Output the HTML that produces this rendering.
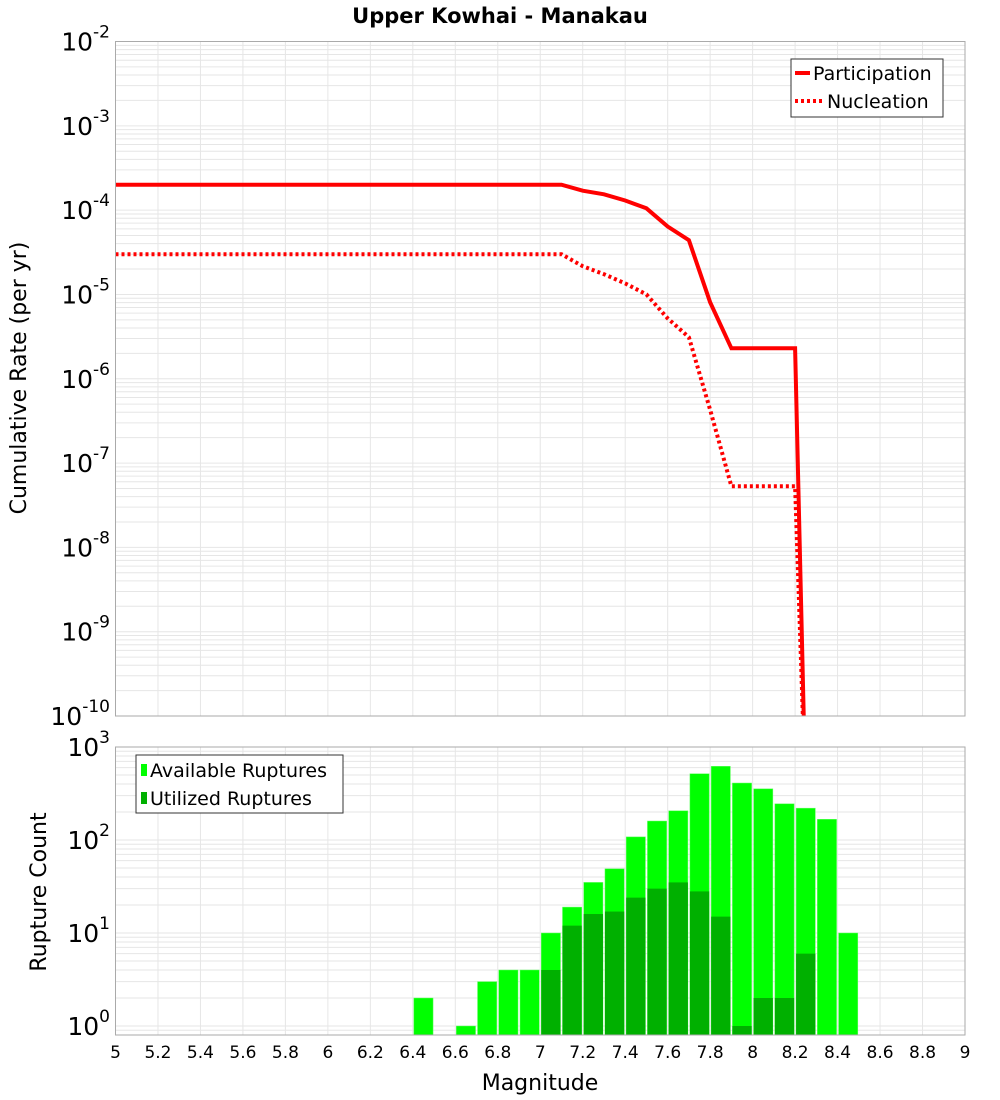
<!DOCTYPE html>
<html><head><meta charset="utf-8"><style>
body{margin:0;background:#fff;}
svg{display:block;font-family:"DejaVu Sans","Liberation Sans",sans-serif;}
</style></head><body>
<svg id="c" width="1000" height="1100" xmlns="http://www.w3.org/2000/svg">
<text x="500" y="23" text-anchor="middle" font-size="21" font-weight="bold">Upper Kowhai - Manakau</text>
<g id="top"></g>
<g id="bot"></g>
<text transform="translate(26,378) rotate(-90)" text-anchor="middle" font-size="22">Cumulative Rate (per yr)</text>
<text transform="translate(46,892) rotate(-90)" text-anchor="middle" font-size="22">Rupture Count</text>
<text x="540" y="1090" text-anchor="middle" font-size="22">Magnitude</text>
<g>
<rect x="791" y="59" width="152" height="58" fill="#fff" stroke="#333" stroke-width="1"/>
<line x1="795" y1="73" x2="810" y2="73" stroke="#f00" stroke-width="4"/>
<text x="813" y="80" font-size="19">Participation</text>
<line x1="795" y1="101" x2="822" y2="101" stroke="#f00" stroke-width="4" stroke-dasharray="3,3"/>
<text x="827" y="108" font-size="19">Nucleation</text>
</g>
<g>
<rect x="136" y="755" width="207" height="58" fill="#fff" stroke="#333" stroke-width="1"/>
<rect x="141" y="764" width="6" height="12" fill="#00ff00"/>
<text x="150" y="777" font-size="19">Available Ruptures</text>
<rect x="141" y="792" width="6" height="12" fill="#00b000"/>
<text x="150" y="805" font-size="19">Utilized Ruptures</text>
</g>
</svg>
<script>
const partMags=[5,7.1,7.2,7.3,7.4,7.5,7.6,7.7,7.8,7.9,8.0,8.1,8.2,8.25];
const partRates=[2.0e-4,2.0e-4,1.7e-4,1.54e-4,1.3e-4,1.05e-4,6.4e-5,4.4e-5,8.1e-6,2.3e-6,2.3e-6,2.3e-6,2.3e-6,1e-11];
const nuclMags=[5,7.1,7.2,7.3,7.4,7.5,7.6,7.7,7.8,7.9,8.0,8.1,8.2,8.25];
const nuclRates=[3.0e-5,3.0e-5,2.16e-5,1.74e-5,1.35e-5,1.0e-5,5.2e-6,3.1e-6,4.3e-7,5.3e-8,5.3e-8,5.3e-8,5.3e-8,1e-11];
const binCenters=[6.45,6.65,6.75,6.85,6.95,7.05,7.15,7.25,7.35,7.45,7.55,7.65,7.75,7.85,7.95,8.05,8.15,8.25,8.35,8.45];
const available=[2,1,3,4,4,10,19,35,49,108,160,206,516,620,410,355,245,220,167,10];
const utilized=[0,0,0,0,0,4,12,16,17,24,30,35,28,15,1,2,2,6,0,0];
const xTicks=[5,5.2,5.4,5.6,5.8,6,6.2,6.4,6.6,6.8,7,7.2,7.4,7.6,7.8,8,8.2,8.4,8.6,8.8,9];
const topExps=[-2,-3,-4,-5,-6,-7,-8,-9,-10];
const botExps=[3,2,1,0];
const NS='http://www.w3.org/2000/svg';
const X0=115.5,X1=965;
const xs=m=>X0+(m-5)/4*(X1-X0);
const T0=41.5,T1=716,yt=v=>T0+(-2-Math.log10(v))/8*(T1-T0);
const B0=747,Bd=93,yb=v=>B0+(3-Math.log10(v))*Bd,B1=1035;
function mk(p,tag,at,txt){const e=document.createElementNS(NS,tag);for(const k in at)e.setAttribute(k,at[k]);if(txt!==undefined)e.textContent=txt;p.appendChild(e);return e;}
const gTop=document.getElementById('top'),gBot=document.getElementById('bot');
function grid(g,y0,y1,yf,eLo,eHi){
 for(let e=eLo;e<eHi;e++)for(let k=1;k<10;k++){const y=yf(k*Math.pow(10,e));if(y<y0||y>y1)continue;
  const l=mk(g,'line',{x1:X0,x2:X1,y1:y,y2:y,stroke:'#e6e6e6','stroke-width':1});
  
  }
 xTicks.forEach(t=>{const l=mk(g,'line',{x1:xs(t),x2:xs(t),y1:y0,y2:y1,stroke:'#e6e6e6','stroke-width':1});
  
  });
}
grid(gTop,T0,T1,yt,-10,-2);
grid(gBot,B0,B1,yb,-1,3);
binCenters.forEach((c,i)=>{
 const xl=xs(c-0.05)+1,w=xs(c+0.05)-xs(c-0.05)-2;
 if(available[i]>0){const y=yb(available[i]);const r=mk(gBot,'rect',{x:xl,y:y,width:w,height:B1-y,fill:'#00ff00',stroke:'#66ff66','stroke-width':0.5});
  
  }
 if(utilized[i]>0){const y=yb(utilized[i]);const r=mk(gBot,'rect',{x:xl,y:y,width:w,height:B1-y,fill:'#00b000'});
  
  }
});
const clip=mk(document.getElementById('c'),'clipPath',{id:'tc'});mk(clip,'rect',{x:X0,y:T0,width:X1-X0,height:T1-T0});
function line(ms,rs,dash,name){const d=ms.map((m,i)=>(i?'L':'M')+xs(m).toFixed(1)+','+yt(rs[i]).toFixed(1)).join('');
 const p=mk(gTop,'path',{d:d,fill:'none',stroke:'#ff0000','stroke-width':4,'clip-path':'url(#tc)'});
 if(dash)p.setAttribute('stroke-dasharray','3,3');
 
 }
line(nuclMags,nuclRates,true,'nucleation-line');
line(partMags,partRates,false,'participation-line');
[[T0,T1,gTop],[B0,B1,gBot]].forEach(([a,b,g])=>{const r=mk(g,'rect',{x:X0,y:a,width:X1-X0,height:b-a,fill:'none',stroke:'#aaaaaa','stroke-width':1});
 
 });
function ylab(g,y,e){const t=mk(g,'text',{x:110,y:y+9,'text-anchor':'end','font-size':25});
 
 
 t.textContent='10';mk(t,'tspan',{dy:-13,'font-size':17},String(e));}
topExps.forEach(e=>ylab(gTop,yt(Math.pow(10,e)),e));
botExps.forEach(e=>ylab(gBot,yb(Math.pow(10,e)),e));
xTicks.forEach(t=>{const e=mk(gBot,'text',{x:xs(t),y:1058,'text-anchor':'middle','font-size':17},String(t));
 
 });
</script>
</body></html>
